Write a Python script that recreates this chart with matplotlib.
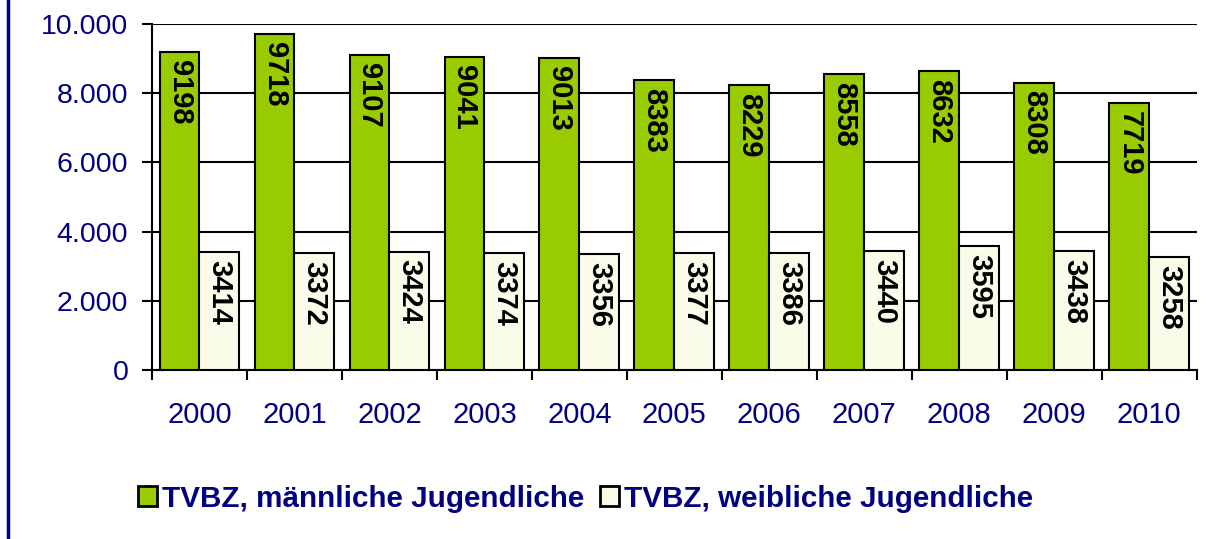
import numpy as np
import matplotlib.pyplot as plt
from matplotlib.lines import Line2D
from matplotlib.patches import Patch

years = ["2000", "2001", "2002", "2003", "2004", "2005", "2006", "2007", "2008", "2009", "2010"]
maennlich = [9198, 9718, 9107, 9041, 9013, 8383, 8229, 8558, 8632, 8308, 7719]
weiblich = [3414, 3372, 3424, 3374, 3356, 3377, 3386, 3440, 3595, 3438, 3258]
y_ticks = [0, 2000, 4000, 6000, 8000, 10000]
y_labels = ["0", "2.000", "4.000", "6.000", "8.000", "10.000"]

GREEN = "#99cc00"
CREAM = "#fbfbe9"
NAVY = "#000080"

plt.rcParams["font.family"] = ["Liberation Sans", "DejaVu Sans"]

fig = plt.figure(figsize=(12.12, 5.39), dpi=100)
ax = fig.add_axes([0.1254, 0.3135, 0.862, 0.642])

x = np.arange(len(years))
w = 0.42
ax.bar(x - w / 2, maennlich, width=w, color=GREEN, edgecolor="black", linewidth=1.5, zorder=3)
ax.bar(x + w / 2, weiblich, width=w, color=CREAM, edgecolor="black", linewidth=1.5, zorder=3)

for xi, v in zip(x, maennlich):
    ax.text(xi - w / 2, v - 230, str(v), rotation=-90, ha="center", va="top",
            fontsize=21, fontweight="bold", color="black", zorder=4)
for xi, v in zip(x, weiblich):
    ax.text(xi + w / 2, v - 230, str(v), rotation=-90, ha="center", va="top",
            fontsize=21, fontweight="bold", color="black", zorder=4)

ax.set_xlim(-0.5, len(years) - 0.5)
ax.set_ylim(0, 10000)
ax.set_yticks(y_ticks)
ax.set_yticklabels(y_labels, color=NAVY, fontsize=20.5)
ax.yaxis.grid(True, color="black", linewidth=1.5, zorder=0)
ax.tick_params(axis="y", direction="out", length=7, width=1.5, pad=10)

# category boundaries carry the tick marks, labels sit at the centres
ax.set_xticks(np.arange(len(years) + 1) - 0.5)
ax.set_xticklabels([])
ax.tick_params(axis="x", which="major", direction="out", length=7, width=1.5)
ax.set_xticks(x, minor=True)
ax.set_xticklabels(years, minor=True, color=NAVY, fontsize=21)
ax.tick_params(axis="x", which="minor", length=0, pad=22)

for s in ("top", "right"):
    ax.spines[s].set_visible(False)
ax.spines["left"].set_linewidth(1.5)
ax.spines["bottom"].set_linewidth(1.5)
ax.set_axisbelow(True)

handles = [Patch(facecolor=GREEN, edgecolor="black", linewidth=2),
           Patch(facecolor=CREAM, edgecolor="black", linewidth=2)]
leg = fig.legend(handles, ["TVBZ, männliche Jugendliche", "TVBZ, weibliche Jugendliche"],
                 loc="center", bbox_to_anchor=(0.483, 0.075), ncol=2, frameon=False,
                 handlelength=0.65, handleheight=0.65, handletextpad=0.15, columnspacing=0.55,
                 prop={"size": 21.3, "weight": "bold"})
for t in leg.get_texts():
    t.set_color(NAVY)

fig.add_artist(Line2D([0.0066, 0.0066], [0, 1], color=NAVY, linewidth=2.5, transform=fig.transFigure))

fig.savefig("out.png", dpi=100)
